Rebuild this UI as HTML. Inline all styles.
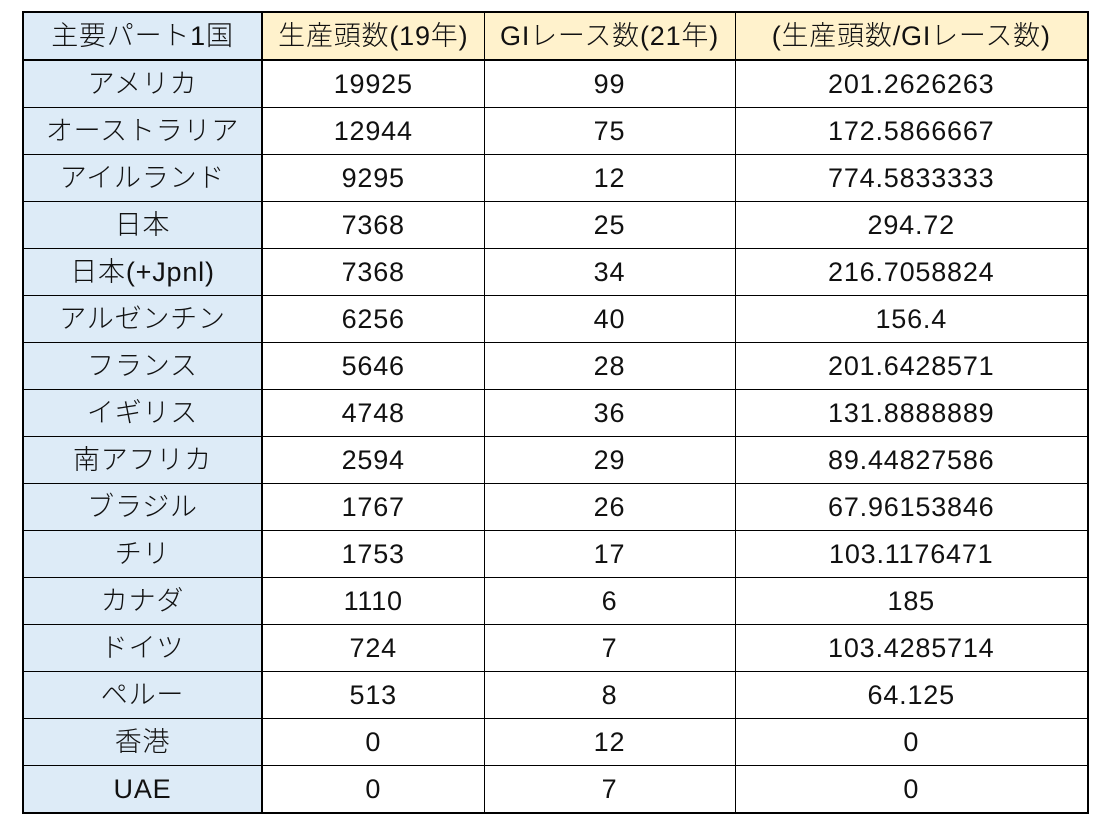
<!DOCTYPE html>
<html><head><meta charset="utf-8"><style>
body{margin:0;width:1105px;height:829px;background:#fff;overflow:hidden}
table{position:absolute;left:22px;top:11px;border-collapse:collapse;font-family:"Liberation Sans","Noto Sans CJK JP",sans-serif;font-size:27px;letter-spacing:0.8px;font-weight:300;color:#111}
td{border:1px solid #000;height:46px;padding:0;text-align:center;vertical-align:middle;line-height:46px;white-space:nowrap;overflow:hidden}
td.c{background:#DDEBF7}
tr.h td{background:#FFF2CC;border-bottom:2px solid #000}
tr.h td.c{background:#DDEBF7}
td.c{border-right:2px solid #000}
table{border:2px solid #000}
</style></head><body>
<table>
<colgroup><col style="width:239px"><col style="width:222px"><col style="width:251px"><col style="width:353px"></colgroup>
<tr class="h"><td class="c">主要パート1国</td><td>生産頭数(19年)</td><td>GIレース数(21年)</td><td>(生産頭数/GIレース数)</td></tr>
<tr><td class="c">アメリカ</td><td>19925</td><td>99</td><td>201.2626263</td></tr>
<tr><td class="c">オーストラリア</td><td>12944</td><td>75</td><td>172.5866667</td></tr>
<tr><td class="c">アイルランド</td><td>9295</td><td>12</td><td>774.5833333</td></tr>
<tr><td class="c">日本</td><td>7368</td><td>25</td><td>294.72</td></tr>
<tr><td class="c">日本(+Jpnl)</td><td>7368</td><td>34</td><td>216.7058824</td></tr>
<tr><td class="c">アルゼンチン</td><td>6256</td><td>40</td><td>156.4</td></tr>
<tr><td class="c">フランス</td><td>5646</td><td>28</td><td>201.6428571</td></tr>
<tr><td class="c">イギリス</td><td>4748</td><td>36</td><td>131.8888889</td></tr>
<tr><td class="c">南アフリカ</td><td>2594</td><td>29</td><td>89.44827586</td></tr>
<tr><td class="c">ブラジル</td><td>1767</td><td>26</td><td>67.96153846</td></tr>
<tr><td class="c">チリ</td><td>1753</td><td>17</td><td>103.1176471</td></tr>
<tr><td class="c">カナダ</td><td>1110</td><td>6</td><td>185</td></tr>
<tr><td class="c">ドイツ</td><td>724</td><td>7</td><td>103.4285714</td></tr>
<tr><td class="c">ペルー</td><td>513</td><td>8</td><td>64.125</td></tr>
<tr><td class="c">香港</td><td>0</td><td>12</td><td>0</td></tr>
<tr><td class="c">UAE</td><td>0</td><td>7</td><td>0</td></tr>
</table>
</body></html>
